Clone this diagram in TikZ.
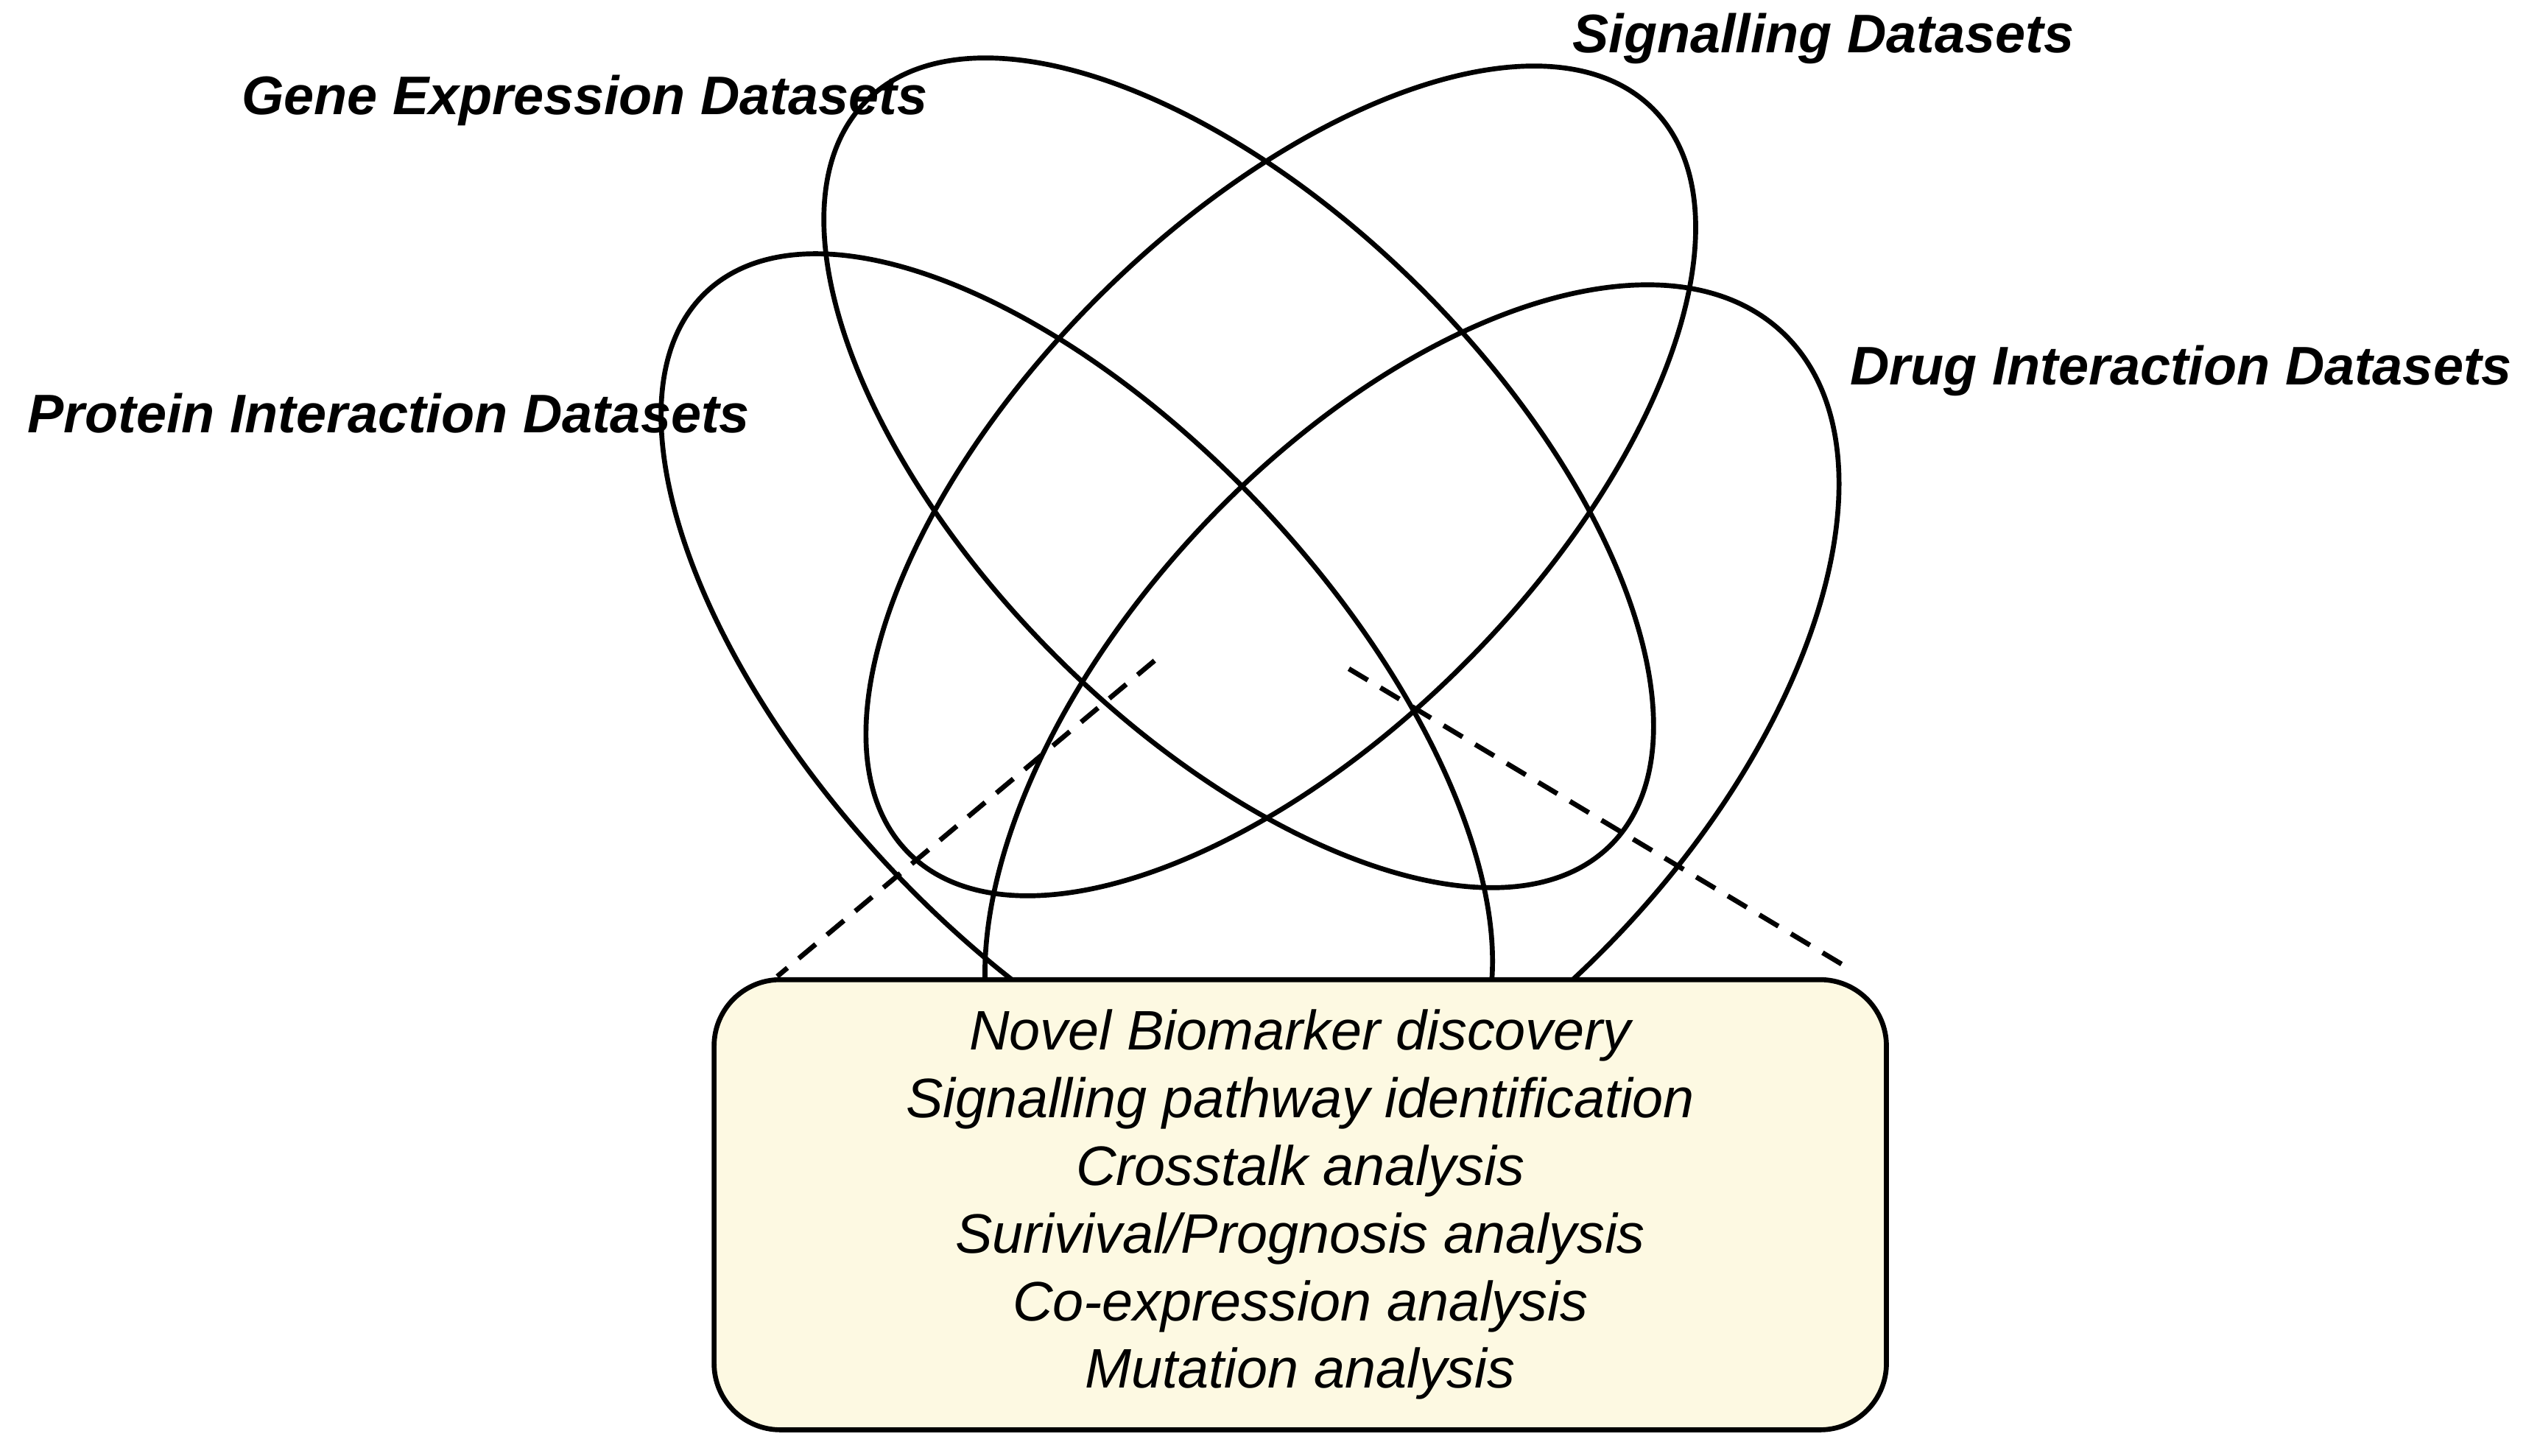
\documentclass[tikz,border=0pt]{standalone}
\usepackage{fontspec}
\setmainfont{Liberation Sans}
\begin{document}
\begin{tikzpicture}[x=0.021987cm,y=0.021987cm,
  ell/.style={line width=1.9pt},
  lab/.style={font=\fontsize{21}{24}\selectfont\bfseries\itshape, inner sep=0pt},
  box/.style={draw, line width=1.9pt, rounded corners=0.9cm, fill={rgb,255:red,253;green,249;blue,226}, minimum width=724*0.021987cm, minimum height=278*0.021987cm},
  res/.style={font=\fontsize{21.5}{24}\selectfont\itshape, align=center}]
\useasboundingbox (0,0) rectangle (1560,899);
\draw[ell] (765,607) ellipse [x radius=325, y radius=160, rotate=-45];
\draw[ell] (791,602) ellipse [x radius=325, y radius=160, rotate=45];
\draw[ell] (665,474) ellipse [x radius=335, y radius=160, rotate=-47];
\draw[ell] (872,449) ellipse [x radius=335, y radius=180, rotate=47];
\node[box] (b) at (803,155) {};
\node[res] (t) at (803,155) {Novel Biomarker discovery\\[0.075cm]Signalling pathway identification\\[0.075cm]Crosstalk analysis\\[0.075cm]Surivival/Prognosis analysis\\[0.075cm]Co-expression analysis\\[0.075cm]Mutation analysis};
\coordinate (d1) at (713,491);
\coordinate (d2) at (480,296);
\coordinate (d3) at (833,486);
\coordinate (d4) at (1145,299);
\draw[line width=1.9pt, dash pattern=on 0.3cm off 0.2cm] (d1) -- (d2);
\draw[line width=1.9pt, dash pattern=on 0.3cm off 0.2cm] (d3) -- (d4);
\node[lab] (g) at (361,837) {Gene Expression Datasets};
\node[lab] (s) at (1126,875) {Signalling Datasets};
\node[lab] (dr) at (1347,670) {Drug Interaction Datasets};
\node[lab] (p) at (240,644) {Protein Interaction Datasets};
\end{tikzpicture}
\end{document}
